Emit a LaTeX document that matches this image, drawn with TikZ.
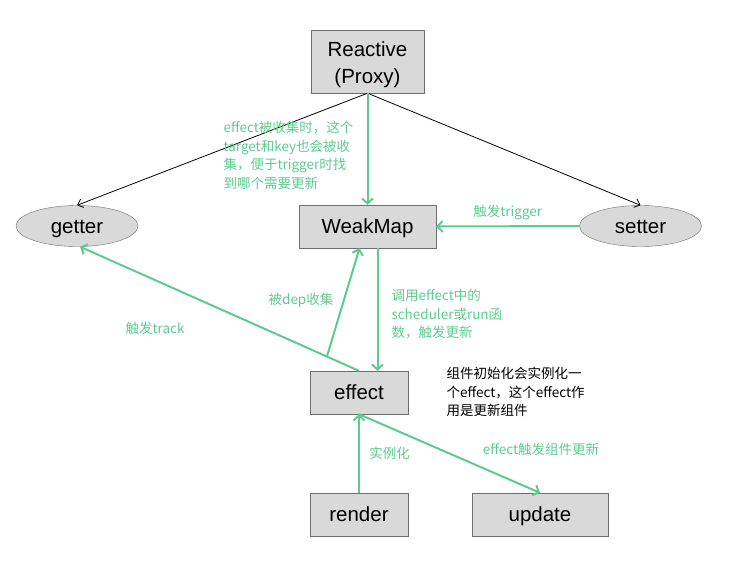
\documentclass[tikz,border=0pt]{standalone}
\usepackage{fontspec}
\setmainfont{Liberation Sans}
\newfontfamily\cjk{Noto Sans CJK SC}
\usetikzlibrary{arrows.meta,calc,shapes.geometric}
\definecolor{edgegreen}{RGB}{92,204,142}
\definecolor{boxgray}{RGB}{217,217,217}
\definecolor{boxline}{RGB}{110,110,110}
\begin{document}
\begin{tikzpicture}[x=1pt,y=-1pt,
  box/.style={draw=boxline, fill=boxgray, inner sep=0pt, text height=18pt, text depth=4pt, font=\fontsize{20.5}{27}\selectfont},
  oval/.style={box, ellipse, minimum width=122pt, minimum height=41pt},
  flow/.style={edgegreen, line width=2pt, -{Straight Barb[length=5pt,width=11pt]}},
  plain/.style={black, line width=0.8pt, -{Straight Barb[length=5pt,width=9pt]}},
  note/.style={edgegreen, font=\cjk\fontsize{13.5}{18.5}\selectfont, align=left}]
  \useasboundingbox (0,0) rectangle (741,579);

  % Nodes
  \node[box, text height=34pt, text depth=18.4pt, minimum width=113pt, minimum height=63pt] (reactive) at (367.5,61.5)
    {\begin{tabular}{@{}c@{}}Reactive\\(Proxy)\end{tabular}};
  \node[oval] (getter) at (77,226) {getter};
  \node[box, minimum width=137pt, minimum height=43pt] (weakmap) at (367.5,226.5) {WeakMap};
  \node[oval] (setter) at (640.5,226) {setter};
  \node[box, minimum width=98pt, minimum height=43pt] (effect) at (359,392.5) {effect};
  \node[box, minimum width=98pt, minimum height=43pt] (render) at (359,514.5) {render};
  \node[box, minimum width=136pt, minimum height=43pt] (update) at (540,514.5) {update};

  % Proxy to getter / setter
  \draw[plain] (reactive.south) -- (getter.north);
  \draw[plain] (reactive.south) -- (setter.north);

  % Collecting
  \draw[flow] (reactive.south) -- (weakmap.north);
  \node[note, anchor=north west] (collectnote) at (220,118)
    {effect被收集时，这个\\target和key也会被收\\集，便于trigger时找\\到哪个需要更新};

  % Trigger
  \draw[flow] (setter.west) -- (weakmap.east) node[midway, above=2pt, note] {触发trigger};
  \draw[flow] ([xshift=10pt]weakmap.south) -- ([xshift=10pt]weakmap.south |- effect.north);
  \node[note, anchor=north west] (callnote) at (388,286)
    {调用effect中的\\scheduler或run函\\数，触发更新};

  % Track and dep
  \draw[flow] (effect.north) -- ([xshift=3pt]getter.south);
  \node[note] at (155,328) {触发track};
  \coordinate (depstart) at ($(effect.north)!0.115!([xshift=3pt]getter.south)$);
  \draw[flow] (depstart) -- ([xshift=-8pt]weakmap.south);
  \node[note] at (301,300) {被dep收集};

  % Effect note
  \node[font=\cjk\fontsize{13.5}{18.5}\selectfont, align=left, anchor=north west] (effectnote) at (443,364)
    {组件初始化会实例化一\\个effect，这个effect作\\用是更新组件};

  % Render and update
  \draw[flow] (render.north) -- (effect.south) node[midway, right=6pt, note] {实例化};
  \draw[flow] (effect.south) -- (update.north);
  \node[note] at (541,449) {effect触发组件更新};
\end{tikzpicture}
\end{document}
